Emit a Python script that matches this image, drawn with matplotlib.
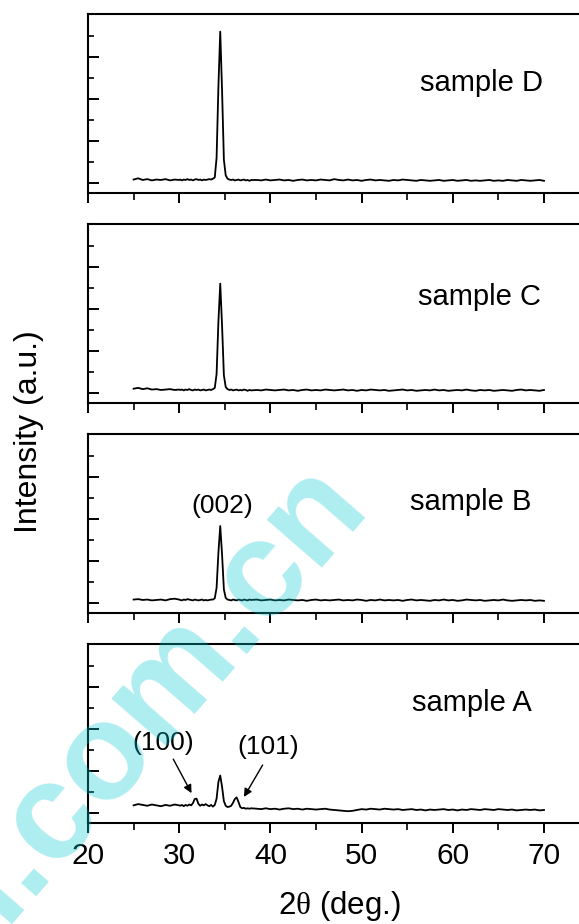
import numpy as np
import matplotlib
matplotlib.use("Agg")
import matplotlib.pyplot as plt
from matplotlib.ticker import FixedLocator, NullFormatter

plt.rcParams['font.family'] = ['Liberation Sans', 'DejaVu Sans']
plt.rcParams['mathtext.fontset'] = 'custom'
plt.rcParams['mathtext.rm'] = 'Liberation Serif'

# ---------------- data ----------------
# 2theta grid: coarse - fine (around the ZnO peaks) - coarse
two_theta = np.concatenate([np.arange(25.0, 30.01, 0.5),
                            np.arange(30.1, 37.91, 0.2),
                            np.arange(38.5, 70.01, 0.5)])

sample_D = (
    [0.08, 0.11, 0.07, 0.09, 0.06, 0.08, 0.07, 0.09, 0.06, 0.08, 0.07]
    + [0.08, 0.06, 0.08, 0.07, 0.09, 0.07, 0.08, 0.06, 0.08, 0.09,
       0.07, 0.08, 0.06, 0.08, 0.07, 0.08, 0.09, 0.08, 0.10, 0.13,
       0.60, 2.30, 3.60, 2.20, 0.55, 0.18, 0.10, 0.08, 0.07, 0.08,
       0.06, 0.07, 0.08, 0.06, 0.07, 0.08, 0.06, 0.07, 0.05, 0.07]
    + [0.07, 0.06, 0.08, 0.06, 0.07, 0.08, 0.06, 0.07, 0.05, 0.07,
       0.08, 0.06, 0.07, 0.06, 0.08, 0.07, 0.06, 0.09, 0.07, 0.06,
       0.08, 0.06, 0.07, 0.05, 0.07, 0.08, 0.06, 0.07, 0.06, 0.05,
       0.07, 0.06, 0.08, 0.07, 0.06, 0.05, 0.07, 0.06, 0.05, 0.06,
       0.07, 0.05, 0.06, 0.07, 0.05, 0.06, 0.07, 0.05, 0.06, 0.05,
       0.06, 0.07, 0.05, 0.06, 0.05, 0.07, 0.06, 0.05, 0.07, 0.06,
       0.05, 0.06, 0.07, 0.05])

sample_C = (
    [0.10, 0.12, 0.09, 0.11, 0.08, 0.09, 0.07, 0.08, 0.09, 0.07, 0.08]
    + [0.07, 0.08, 0.06, 0.08, 0.07, 0.09, 0.07, 0.06, 0.08, 0.07,
       0.08, 0.06, 0.07, 0.08, 0.06, 0.07, 0.08, 0.07, 0.09, 0.12,
       0.45, 1.70, 2.60, 1.60, 0.42, 0.14, 0.09, 0.07, 0.08, 0.06,
       0.07, 0.08, 0.06, 0.07, 0.06, 0.08, 0.07, 0.05, 0.07, 0.06]
    + [0.07, 0.06, 0.08, 0.07, 0.06, 0.07, 0.08, 0.06, 0.07, 0.05,
       0.07, 0.08, 0.06, 0.07, 0.06, 0.08, 0.07, 0.06, 0.07, 0.08,
       0.06, 0.07, 0.05, 0.07, 0.06, 0.08, 0.07, 0.06, 0.07, 0.05,
       0.06, 0.07, 0.08, 0.06, 0.07, 0.05, 0.06, 0.07, 0.06, 0.08,
       0.06, 0.07, 0.05, 0.06, 0.07, 0.06, 0.08, 0.06, 0.05, 0.07,
       0.06, 0.07, 0.05, 0.06, 0.07, 0.06, 0.05, 0.07, 0.08, 0.06,
       0.07, 0.06, 0.05, 0.07])

sample_B = (
    [0.08, 0.09, 0.07, 0.08, 0.06, 0.07, 0.08, 0.06, 0.09, 0.10, 0.08]
    + [0.07, 0.06, 0.08, 0.07, 0.09, 0.08, 0.07, 0.06, 0.08, 0.07,
       0.06, 0.07, 0.08, 0.06, 0.07, 0.06, 0.07, 0.08, 0.08, 0.11,
       0.36, 1.20, 1.83, 1.15, 0.32, 0.12, 0.08, 0.07, 0.06, 0.08,
       0.07, 0.06, 0.08, 0.07, 0.06, 0.08, 0.07, 0.06, 0.08, 0.07]
    + [0.08, 0.06, 0.07, 0.08, 0.06, 0.07, 0.06, 0.08, 0.07, 0.06,
       0.07, 0.05, 0.07, 0.08, 0.06, 0.07, 0.06, 0.07, 0.08, 0.06,
       0.07, 0.06, 0.08, 0.07, 0.05, 0.07, 0.06, 0.08, 0.06, 0.07,
       0.06, 0.07, 0.05, 0.07, 0.08, 0.06, 0.07, 0.06, 0.05, 0.07,
       0.06, 0.08, 0.06, 0.07, 0.05, 0.06, 0.08, 0.07, 0.06, 0.07,
       0.05, 0.06, 0.07, 0.06, 0.08, 0.06, 0.05, 0.06, 0.07, 0.06,
       0.07, 0.05, 0.06, 0.05])

sample_A = (
    [0.18, 0.21, 0.19, 0.17, 0.20, 0.18, 0.16, 0.19, 0.17, 0.20, 0.18]
    + [0.17, 0.19, 0.16, 0.19, 0.17, 0.20, 0.18, 0.23, 0.33, 0.34,
       0.22, 0.17, 0.20, 0.18, 0.21, 0.18, 0.16, 0.19, 0.15, 0.19,
       0.34, 0.74, 0.89, 0.62, 0.28, 0.17, 0.14, 0.15, 0.17, 0.24,
       0.33, 0.37, 0.26, 0.14, 0.11, 0.12, 0.10, 0.11, 0.10, 0.11]
    + [0.10, 0.09, 0.11, 0.09, 0.10, 0.08, 0.10, 0.11, 0.09, 0.10,
       0.08, 0.10, 0.09, 0.08, 0.09, 0.10, 0.08, 0.07, 0.06, 0.05,
       0.04, 0.05, 0.07, 0.09, 0.08, 0.10, 0.09, 0.08, 0.10, 0.09,
       0.08, 0.09, 0.07, 0.08, 0.09, 0.07, 0.08, 0.06, 0.08, 0.07,
       0.08, 0.09, 0.07, 0.08, 0.06, 0.08, 0.07, 0.09, 0.08, 0.07,
       0.09, 0.08, 0.07, 0.09, 0.08, 0.07, 0.08, 0.06, 0.07, 0.08,
       0.07, 0.08, 0.06, 0.07])

panel_names = ["sample D", "sample C", "sample B", "sample A"]
panel_series = [sample_D, sample_C, sample_B, sample_A]
label_pos = [(63.2, 2.38), (62.9, 2.29), (62.0, 2.40), (62.1, 2.62)]

x_major = [20, 30, 40, 50, 60, 70]
x_minor = [25, 35, 45, 55, 65, 75]
y_major = [0, 1, 2, 3]
y_minor = [0.5, 1.5, 2.5, 3.5]

# ---------------- figure ----------------
W, H = 579, 924
fig = plt.figure(figsize=(W / 100, H / 100), dpi=100)

left_px, right_px = 88, 589.6
panel_px = [(14, 193), (224, 403), (434, 613), (644, 823)]

axes = []
for i, (top, bot) in enumerate(panel_px):
    ax = fig.add_axes([left_px / W, 1 - bot / H, (right_px - left_px) / W, (bot - top) / H])
    ax.plot(two_theta, panel_series[i], color='black', lw=1.3)
    ax.set_xlim(20, 75)
    ax.set_ylim(-0.24, 4.02)
    ax.xaxis.set_major_locator(FixedLocator(x_major))
    ax.xaxis.set_minor_locator(FixedLocator(x_minor))
    ax.yaxis.set_major_locator(FixedLocator(y_major))
    ax.yaxis.set_minor_locator(FixedLocator(y_minor))
    ax.yaxis.set_major_formatter(NullFormatter())
    ax.tick_params(axis='x', which='major', direction='out', length=7.5, width=1.4,
                   labelsize=21.5, pad=6, top=False)
    ax.tick_params(axis='x', which='minor', direction='out', length=5, width=1.2, top=False)
    ax.tick_params(axis='y', which='major', direction='in', length=8, width=1.4, right=False)
    ax.tick_params(axis='y', which='minor', direction='in', length=4.5, width=1.2, right=False)
    if i < 3:
        ax.xaxis.set_major_formatter(NullFormatter())
    for s in ax.spines.values():
        s.set_linewidth(1.5)
    ax.spines['right'].set_visible(False)
    ax.text(label_pos[i][0], label_pos[i][1], panel_names[i], fontsize=21,
            ha='center', va='center')
    axes.append(ax)

axB = axes[2]
axB.text(34.7, 2.31, "(002)", fontsize=19, ha='center', va='center')

axA = axes[3]
axA.text(28.2, 1.67, "(100)", fontsize=19, ha='center', va='center')
axA.text(39.75, 1.57, "(101)", fontsize=19, ha='center', va='center')
arrow_kw = dict(arrowstyle='-|>', lw=1.0, color='black', mutation_scale=12,
                shrinkA=0, shrinkB=0)
axA.annotate('', xy=(31.35, 0.47), xytext=(29.35, 1.28), arrowprops=arrow_kw)
axA.annotate('', xy=(37.1, 0.38), xytext=(39.15, 1.14), arrowprops=arrow_kw)

fig.text(29 / W, 1 - 432 / H, "Intensity (a.u.)", rotation=90, fontsize=23,
         ha='center', va='center')
fig.text(339 / W, 1 - 906 / H, r"2$\mathrm{\theta}$ (deg.)", fontsize=22.5,
         ha='center', va='center')

# watermark
fig.text(3 / W, 1 - 924 / H, "i.com.cn", rotation=49, rotation_mode='anchor',
         ha='left', va='baseline', fontsize=99, fontweight='bold',
         color=(0, 200 / 255, 210 / 255), alpha=0.32, zorder=10)

fig.savefig("out.png", dpi=100)
